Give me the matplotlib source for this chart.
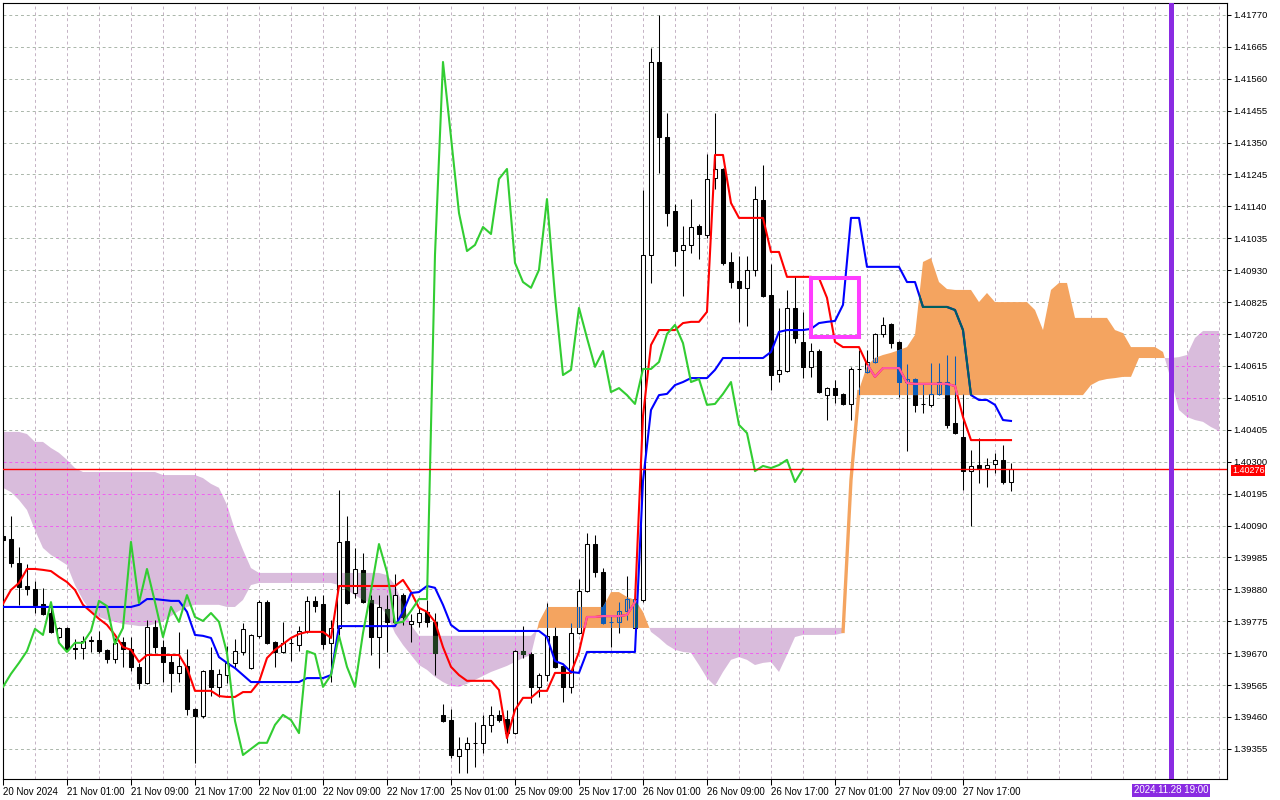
import numpy as np
import matplotlib
matplotlib.use("Agg")
import matplotlib.pyplot as plt
from matplotlib.path import Path
from matplotlib.patches import PathPatch, Rectangle
from matplotlib.transforms import blended_transform_factory

plt.rcParams['font.family'] = ['Liberation Sans', 'DejaVu Sans']

# ---------------- data (H1 bars, index 0 = 20 Nov 2024 17:00) ----------------
time_labels = ["20 Nov 2024", "21 Nov 01:00", "21 Nov 09:00", "21 Nov 17:00",
               "22 Nov 01:00", "22 Nov 09:00", "22 Nov 17:00", "25 Nov 01:00",
               "25 Nov 09:00", "25 Nov 17:00", "26 Nov 01:00", "26 Nov 09:00",
               "26 Nov 17:00", "27 Nov 01:00", "27 Nov 09:00", "27 Nov 17:00"]
label_bars = [0, 8, 16, 24, 32, 40, 48, 56, 64, 72, 80, 88, 96, 104, 112, 120]

price_ticks = [1.39355, 1.39460, 1.39565, 1.39670, 1.39775, 1.39880, 1.39985,
               1.40090, 1.40195, 1.40300, 1.40405, 1.40510, 1.40615, 1.40720,
               1.40825, 1.40930, 1.41035, 1.41140, 1.41245, 1.41350, 1.41455,
               1.41560, 1.41665, 1.41770]

open_ = [1.40056, 1.40046, 1.39967, 1.39891, 1.39881, 1.39832, 1.39802, 1.39723, 1.39753, 1.39687,
         1.39687, 1.39710, 1.39713, 1.39681, 1.39651, 1.39707, 1.39684, 1.39625, 1.39572, 1.39756,
         1.39690, 1.39641, 1.39605, 1.39628, 1.39486, 1.39463, 1.39615, 1.39559, 1.39598, 1.39638,
         1.39674, 1.39621, 1.39727, 1.39838, 1.39707, 1.39674, 1.39704, 1.39697, 1.39743, 1.39842,
         1.39832, 1.39704, 1.39753, 1.40039, 1.39868, 1.39944, 1.39845, 1.39723, 1.39815, 1.39773,
         1.39861, 1.39766, 1.39773, 1.39806, 1.39773, 1.39467, 1.39450, 1.39332, 1.39355, 1.39375,
         1.39375, 1.39434, 1.39467, 1.39454, 1.39407, 1.39677, 1.39667, 1.39559, 1.39598, 1.39727,
         1.39628, 1.39559, 1.39736, 1.39875, 1.40029, 1.39937, 1.39773, 1.39773, 1.39809, 1.39753,
         1.39845, 1.40980, 1.41615, 1.41368, 1.41125, 1.40996, 1.41013, 1.41075, 1.41046, 1.41233,
         1.41263, 1.40957, 1.40895, 1.40872, 1.40931, 1.41161, 1.40848, 1.40588, 1.40598, 1.40806,
         1.40694, 1.40612, 1.40664, 1.40519, 1.40542, 1.40523, 1.40490, 1.40605, 1.40595, 1.40628,
         1.40720, 1.40753, 1.40694, 1.40562, 1.40572, 1.40490, 1.40487, 1.40523, 1.40562, 1.40427,
         1.40381, 1.40269, 1.40289, 1.40279, 1.40292, 1.40306, 1.40233]

high = [1.40065, 1.40121, 1.40019, 1.39963, 1.39908, 1.39885, 1.39835, 1.39756, 1.39756, 1.39717,
        1.39727, 1.39727, 1.39743, 1.39684, 1.39720, 1.39723, 1.39723, 1.39638, 1.39779, 1.39779,
        1.39713, 1.39664, 1.39740, 1.39684, 1.39490, 1.39615, 1.39690, 1.39618, 1.39694, 1.39717,
        1.39769, 1.39733, 1.39845, 1.39845, 1.39710, 1.39773, 1.39720, 1.39759, 1.39858, 1.39858,
        1.39861, 1.39779, 1.40207, 1.40121, 1.40016, 1.40000, 1.39861, 1.39861, 1.39861, 1.39931,
        1.39868, 1.39799, 1.39819, 1.39845, 1.39802, 1.39503, 1.39486, 1.39394, 1.39394, 1.39444,
        1.39467, 1.39496, 1.39483, 1.39483, 1.39680, 1.39759, 1.39674, 1.39605, 1.39835, 1.39756,
        1.39631, 1.39769, 1.39914, 1.40065, 1.40059, 1.39950, 1.39796, 1.39838, 1.39924, 1.39921,
        1.41194, 1.41661, 1.41770, 1.41447, 1.41148, 1.41075, 1.41164, 1.41082, 1.41312, 1.41447,
        1.41266, 1.40990, 1.40977, 1.40977, 1.41207, 1.41276, 1.40950, 1.40806, 1.40865, 1.40911,
        1.40793, 1.40690, 1.40671, 1.40545, 1.40569, 1.40526, 1.40612, 1.40667, 1.40667, 1.40723,
        1.40776, 1.40756, 1.40697, 1.40621, 1.40575, 1.40559, 1.40625, 1.40625, 1.40651, 1.40648,
        1.40523, 1.40339, 1.40378, 1.40312, 1.40329, 1.40355, 1.40296]

low = [1.40039, 1.39954, 1.39829, 1.39861, 1.39802, 1.39796, 1.39736, 1.39720, 1.39681, 1.39651,
       1.39651, 1.39674, 1.39671, 1.39638, 1.39638, 1.39625, 1.39611, 1.39552, 1.39569, 1.39671,
       1.39575, 1.39542, 1.39575, 1.39467, 1.39309, 1.39457, 1.39529, 1.39526, 1.39572, 1.39621,
       1.39664, 1.39618, 1.39720, 1.39700, 1.39625, 1.39671, 1.39644, 1.39677, 1.39736, 1.39806,
       1.39684, 1.39575, 1.39720, 1.39832, 1.39852, 1.39835, 1.39664, 1.39621, 1.39674, 1.39763,
       1.39763, 1.39707, 1.39756, 1.39756, 1.39598, 1.39444, 1.39325, 1.39276, 1.39276, 1.39296,
       1.39342, 1.39411, 1.39444, 1.39375, 1.39404, 1.39654, 1.39506, 1.39526, 1.39579, 1.39621,
       1.39509, 1.39539, 1.39733, 1.39871, 1.39921, 1.39766, 1.39690, 1.39736, 1.39779, 1.39750,
       1.39838, 1.40888, 1.41250, 1.41075, 1.40944, 1.40845, 1.40987, 1.40967, 1.41036, 1.41197,
       1.40947, 1.40872, 1.40760, 1.40746, 1.40911, 1.40842, 1.40536, 1.40562, 1.40595, 1.40690,
       1.40575, 1.40579, 1.40526, 1.40437, 1.40493, 1.40487, 1.40437, 1.40513, 1.40592, 1.40625,
       1.40710, 1.40674, 1.40513, 1.40335, 1.40464, 1.40460, 1.40480, 1.40519, 1.40411, 1.40391,
       1.40207, 1.40089, 1.40230, 1.40217, 1.40263, 1.40227, 1.40204]

close = [1.40042, 1.39967, 1.39888, 1.39881, 1.39829, 1.39799, 1.39740, 1.39753, 1.39684, 1.39684,
         1.39710, 1.39713, 1.39677, 1.39651, 1.39704, 1.39684, 1.39625, 1.39572, 1.39756, 1.39690,
         1.39641, 1.39605, 1.39628, 1.39486, 1.39463, 1.39611, 1.39559, 1.39602, 1.39638, 1.39677,
         1.39750, 1.39730, 1.39838, 1.39704, 1.39674, 1.39704, 1.39704, 1.39743, 1.39842, 1.39825,
         1.39700, 1.39753, 1.40036, 1.39835, 1.39947, 1.39838, 1.39723, 1.39822, 1.39773, 1.39861,
         1.39789, 1.39776, 1.39802, 1.39773, 1.39671, 1.39447, 1.39335, 1.39355, 1.39375, 1.39375,
         1.39434, 1.39467, 1.39450, 1.39407, 1.39677, 1.39667, 1.39559, 1.39598, 1.39727, 1.39625,
         1.39559, 1.39736, 1.39875, 1.40029, 1.39937, 1.39769, 1.39773, 1.39809, 1.39848, 1.39848,
         1.40980, 1.41615, 1.41368, 1.41118, 1.40993, 1.41013, 1.41072, 1.41049, 1.41230, 1.41263,
         1.40954, 1.40891, 1.40872, 1.40931, 1.41164, 1.40845, 1.40585, 1.40602, 1.40806, 1.40707,
         1.40612, 1.40664, 1.40529, 1.40542, 1.40519, 1.40490, 1.40605, 1.40605, 1.40628, 1.40720,
         1.40750, 1.40690, 1.40562, 1.40572, 1.40487, 1.40490, 1.40523, 1.40562, 1.40421, 1.40394,
         1.40269, 1.40286, 1.40279, 1.40289, 1.40306, 1.40233, 1.40276]

tenkan = [1.39832, 1.39878, 1.39901, 1.39947, 1.39947, 1.39944, 1.39940, 1.39921, 1.39904, 1.39878,
          1.39829, 1.39806, 1.39783, 1.39763, 1.39730, 1.39690, 1.39681, 1.39641, 1.39664, 1.39664,
          1.39664, 1.39664, 1.39664, 1.39621, 1.39546, 1.39546, 1.39546, 1.39529, 1.39526, 1.39526,
          1.39542, 1.39542, 1.39575, 1.39654, 1.39681, 1.39700, 1.39720, 1.39733, 1.39740, 1.39740,
          1.39740, 1.39720, 1.39891, 1.39891, 1.39891, 1.39891, 1.39891, 1.39891, 1.39891, 1.39891,
          1.39911, 1.39871, 1.39819, 1.39806, 1.39773, 1.39690, 1.39625, 1.39598, 1.39579, 1.39579,
          1.39579, 1.39579, 1.39549, 1.39390, 1.39483, 1.39523, 1.39523, 1.39546, 1.39546, 1.39605,
          1.39605, 1.39605, 1.39674, 1.39789, 1.39789, 1.39792, 1.39792, 1.39792, 1.39796, 1.39838,
          1.40450, 1.40684, 1.40733, 1.40733, 1.40733, 1.40756, 1.40760, 1.40760, 1.40793, 1.41309,
          1.41309, 1.41151, 1.41102, 1.41102, 1.41102, 1.41102, 1.40990, 1.40990, 1.40908, 1.40908,
          1.40908, 1.40908, 1.40904, 1.40839, 1.40694, 1.40677, 1.40677, 1.40677, 1.40621, 1.40579,
          1.40608, 1.40608, 1.40608, 1.40559, 1.40556, 1.40556, 1.40556, 1.40556, 1.40556, 1.40549,
          1.40447, 1.40371, 1.40371, 1.40371, 1.40371, 1.40371, 1.40371]

kijun = [1.39822, 1.39822, 1.39822, 1.39822, 1.39822, 1.39822, 1.39822, 1.39822, 1.39822, 1.39822,
         1.39822, 1.39822, 1.39822, 1.39822, 1.39822, 1.39822, 1.39822, 1.39829, 1.39848, 1.39848,
         1.39845, 1.39842, 1.39842, 1.39806, 1.39730, 1.39727, 1.39720, 1.39657, 1.39638, 1.39621,
         1.39598, 1.39575, 1.39575, 1.39575, 1.39575, 1.39575, 1.39575, 1.39575, 1.39588, 1.39588,
         1.39588, 1.39598, 1.39759, 1.39759, 1.39759, 1.39759, 1.39759, 1.39759, 1.39759, 1.39759,
         1.39806, 1.39868, 1.39871, 1.39891, 1.39885, 1.39829, 1.39763, 1.39743, 1.39743, 1.39743,
         1.39743, 1.39743, 1.39743, 1.39743, 1.39743, 1.39743, 1.39743, 1.39743, 1.39723, 1.39644,
         1.39634, 1.39608, 1.39605, 1.39674, 1.39674, 1.39674, 1.39674, 1.39674, 1.39674, 1.39674,
         1.40236, 1.40470, 1.40519, 1.40523, 1.40552, 1.40562, 1.40575, 1.40575, 1.40575, 1.40602,
         1.40641, 1.40641, 1.40641, 1.40641, 1.40641, 1.40641, 1.40661, 1.40727, 1.40733, 1.40733,
         1.40733, 1.40737, 1.40756, 1.40760, 1.40763, 1.40816, 1.41102, 1.41102, 1.40941, 1.40941,
         1.40941, 1.40941, 1.40941, 1.40891, 1.40891, 1.40809, 1.40809, 1.40809, 1.40809, 1.40799,
         1.40733, 1.40519, 1.40503, 1.40503, 1.40487, 1.40437, 1.40434]

# Senkou spans, bars 0..152 (already shifted 26 bars forward)
span_a = [1.40214, 1.40200, 1.40174, 1.40141, 1.40075, 1.40016, 1.39993, 1.39977, 1.39960, 1.39894,
          1.39845, 1.39806, 1.39789, 1.39779, 1.39773, 1.39766, 1.39763, 1.39759, 1.39759, 1.39766,
          1.39776, 1.39792, 1.39809, 1.39822, 1.39829, 1.39829, 1.39829, 1.39829, 1.39822, 1.39822,
          1.39845, 1.39894, 1.39901, 1.39901, 1.39901, 1.39901, 1.39901, 1.39901, 1.39901, 1.39901,
          1.39901, 1.39901, 1.39894, 1.39878, 1.39861, 1.39845, 1.39835, 1.39829, 1.39796, 1.39736,
          1.39697, 1.39664, 1.39631, 1.39615, 1.39592, 1.39575, 1.39562, 1.39559, 1.39569, 1.39582,
          1.39595, 1.39608, 1.39618, 1.39628, 1.39641, 1.39654, 1.39664, 1.39773, 1.39822, 1.39822,
          1.39822, 1.39822, 1.39822, 1.39822, 1.39822, 1.39822, 1.39871, 1.39871, 1.39855, 1.39845,
          1.39806, 1.39740, 1.39720, 1.39697, 1.39681, 1.39674, 1.39671, 1.39631, 1.39588, 1.39562,
          1.39608, 1.39648, 1.39657, 1.39648, 1.39631, 1.39638, 1.39641, 1.39608, 1.39664, 1.39723,
          1.39730, 1.39730, 1.39730, 1.39730, 1.39730, 1.39736, 1.40240, 1.40536, 1.40615, 1.40641,
          1.40651, 1.40658, 1.40667, 1.40677, 1.40717, 1.40957, 1.40970, 1.40891, 1.40868, 1.40865,
          1.40865, 1.40865, 1.40825, 1.40855, 1.40825, 1.40825, 1.40825, 1.40825, 1.40825, 1.40799,
          1.40733, 1.40865, 1.40888, 1.40888, 1.40773, 1.40773, 1.40773, 1.40773, 1.40773, 1.40733,
          1.40723, 1.40677, 1.40677, 1.40677, 1.40677, 1.40661, 1.40569, 1.40470, 1.40447, 1.40437,
          1.40431, 1.40414, 1.40401]

span_b = [1.40398, 1.40398, 1.40398, 1.40391, 1.40365, 1.40365, 1.40345, 1.40329, 1.40306, 1.40279,
          1.40266, 1.40266, 1.40266, 1.40266, 1.40266, 1.40266, 1.40266, 1.40266, 1.40266, 1.40266,
          1.40256, 1.40256, 1.40256, 1.40256, 1.40256, 1.40246, 1.40227, 1.40214, 1.40158, 1.40075,
          1.40010, 1.39950] + [1.39934] * 16 + [1.39927, 1.39894, 1.39829, 1.39763] \
         + [1.39727] * 15 + [1.39753] * 39 + [1.40207] + [1.40519] * 29 \
         + [1.40552, 1.40566, 1.40572, 1.40575, 1.40579, 1.40579] + [1.40641] * 5 \
         + [1.40644, 1.40651, 1.40707, 1.40730, 1.40730, 1.40730]

last_price = 1.40276
future_bar = 146
future_label = "2024.11.28 19:00"
box_bars = (101, 107)
box_prices = (1.40710, 1.40904)

# ---------------- figure ----------------
o = np.array(open_); hi = np.array(high); lo = np.array(low); c = np.array(close)
tk = np.array(tenkan); kj = np.array(kijun)
sa = np.array(span_a); sb = np.array(span_b)
n = len(o)
x = np.arange(n)
xf = np.arange(len(sa))

fig = plt.figure(figsize=(12.8, 8), dpi=100)
fig.patch.set_facecolor('white')
ax = fig.add_axes([2.5 / 1280, 21 / 800, 1224.5 / 1280, 776.3 / 800])
ax.set_facecolor('white')
XL = (-0.06, 153.0)
YL = (1.39256, 1.41810)
ax.set_xlim(*XL)
ax.set_ylim(*YL)

# grid
grid_bars = np.arange(4, 153, 4)
ax.vlines(grid_bars, YL[0], YL[1], colors='#c4b2c4', linestyles=(0, (3, 3)),
          linewidths=0.7, zorder=0.5)
ax.hlines(price_ticks, XL[0], XL[1], colors='#aab6aa', linestyles=(0, (3, 3)),
          linewidths=0.7, zorder=0.5)

# cloud
thistle = ax.fill_between(xf, sa, sb, where=sa < sb, interpolate=True,
                          facecolor='#d9bcdc', edgecolor='none', zorder=1)
orange = ax.fill_between(xf, sa, sb, where=sa >= sb, interpolate=True,
                         facecolor='#f4a460', edgecolor='none', zorder=3)
# steep twist of the cloud (spans almost equal) drawn as a narrow band
ax.plot(xf[105:108], sa[105:108], color='#f4a460', lw=2.4, zorder=3,
        solid_capstyle='butt')


def clip_of(coll):
    paths = coll.get_paths()
    cp = Path.make_compound_path(*paths)
    return PathPatch(cp, transform=ax.transData, facecolor='none', edgecolor='none')


th_clip = clip_of(thistle)
or_clip = clip_of(orange)

# magenta grid showing through the bearish cloud
g1 = ax.vlines(grid_bars, YL[0], YL[1], colors='#f060f0', linestyles=(0, (3, 3)),
               linewidths=0.7, zorder=1.1)
g2 = ax.hlines(price_ticks, XL[0], XL[1], colors='#f060f0', linestyles=(0, (3, 3)),
               linewidths=0.7, zorder=1.1)
g1.set_clip_path(th_clip)
g2.set_clip_path(th_clip)

# candles
up = c >= o
body_lo = np.minimum(o, c)
body_h = np.maximum(np.abs(c - o), 1e-6)
W = 0.62
ax.vlines(x, lo, hi, colors='black', linewidths=0.75, zorder=2)
ax.bar(x, body_h, bottom=body_lo, width=W, color=np.where(up, 'white', 'black'),
       edgecolor='black', linewidth=0.75, zorder=2.05)
dn = ~up
bg = ax.bar(x[dn], body_h[dn], bottom=body_lo[dn], width=W, color='#1f3d1f',
            edgecolor='#1f3d1f', linewidth=0.75, zorder=2.1)
for p in bg:
    p.set_clip_path(th_clip)

# candles seen through the bullish cloud
wb = ax.vlines(x, lo, hi, colors='#0b5cb8', linewidths=0.75, zorder=3.1)
wb.set_clip_path(or_clip)
bb = ax.bar(x, body_h, bottom=body_lo, width=W, color=np.where(up, 'none', '#0b5cb8'),
            edgecolor='#0b5cb8', linewidth=0.75, zorder=3.15)
for p in bb:
    p.set_clip_path(or_clip)

# ichimoku lines
ax.plot(x, tk, color='#ff0000', lw=1.5, zorder=4)
ax.plot(x, kj, color='#0000ff', lw=1.5, zorder=4)
ax.plot(x[:n - 26], c[26:], color='#32cd32', lw=1.5, zorder=4)
l1, = ax.plot(x, tk, color='#ff5aa5', lw=1.5, zorder=4.1)
l2, = ax.plot(x, kj, color='#005f60', lw=1.5, zorder=4.1)
l1.set_clip_path(or_clip)
l2.set_clip_path(or_clip)

# price line, rectangle, vertical line
ax.axhline(last_price, color='#ff0000', lw=1.0, zorder=5)
ax.add_patch(Rectangle((box_bars[0], box_prices[0]), box_bars[1] - box_bars[0],
                       box_prices[1] - box_prices[0], fill=False,
                       edgecolor='#ff3cff', lw=2.9, zorder=6))
ax.axvline(future_bar, color='#8a2be2', lw=3.6, zorder=6)

# axes / ticks
for s in ax.spines.values():
    s.set_color('black')
    s.set_linewidth(0.8)
ax.yaxis.tick_right()
ax.set_yticks(price_ticks)
ax.set_yticklabels([f'{p:.5f}' for p in price_ticks])
ax.tick_params(axis='y', direction='out', length=3, width=0.75, pad=1.5,
               labelsize=6.8, colors='black')
ax.set_xticks(label_bars)
ax.set_xticklabels(time_labels, ha='left')
ax.tick_params(axis='x', direction='out', length=4, width=0.75, pad=1.5,
               labelsize=7, colors='black')

ty = blended_transform_factory(ax.transAxes, ax.transData)
ax.text(1.0040, last_price - 0.00005, f'{last_price:.5f}', transform=ty, ha='left',
        va='center', fontsize=6.5, color='white', zorder=10, clip_on=False,
        bbox=dict(boxstyle='square,pad=0.06', facecolor='#ff0000', edgecolor='none'))
tx = blended_transform_factory(ax.transData, ax.transAxes)
ax.text(future_bar, -0.0145, future_label, transform=tx, ha='center', va='center',
        fontsize=7, color='white', zorder=10, clip_on=False,
        bbox=dict(boxstyle='square,pad=0.18', facecolor='#8a2be2', edgecolor='none'))

fig.savefig('out.png', dpi=100, facecolor='white')
